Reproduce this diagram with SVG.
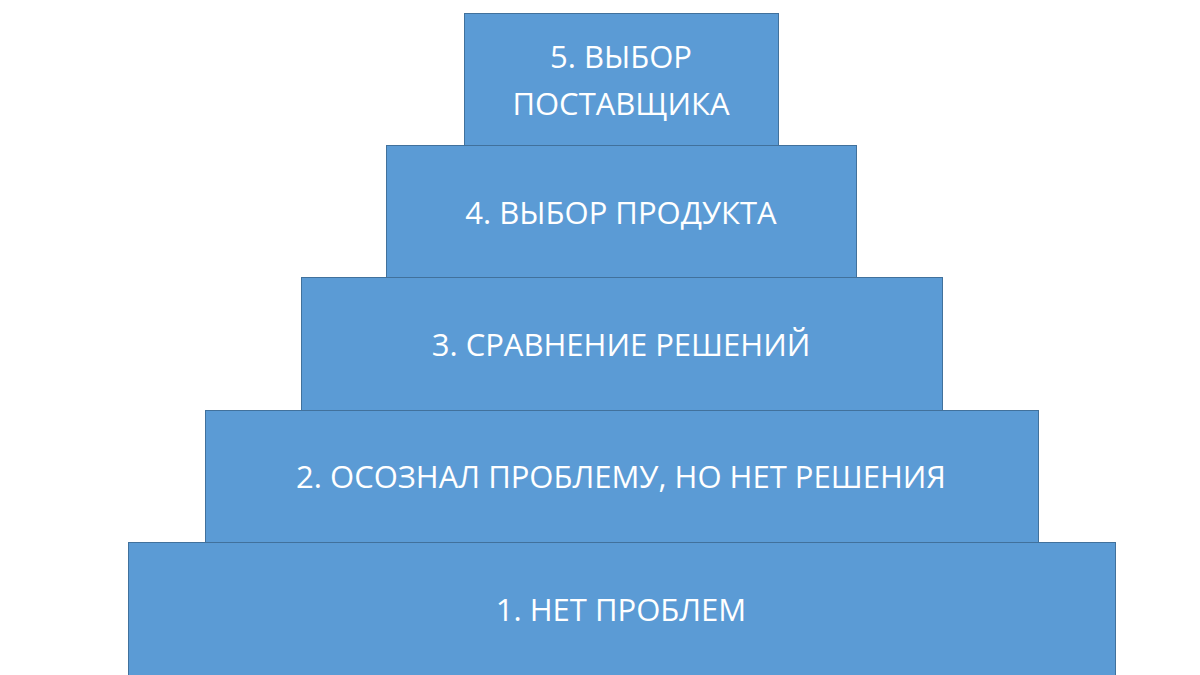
<svg xmlns="http://www.w3.org/2000/svg" width="1200" height="675" viewBox="0 0 1200 675">
<style>
.b{fill:#5B9BD5;stroke:#41719C;stroke-width:1}
.t{fill:#fff;font-family:"Open Sans","Noto Sans",sans-serif;font-size:31px;text-anchor:middle}
</style>
<rect width="1200" height="675" fill="#fff"/>
<g id="n1"><rect class="b" x="128.5" y="542.5" width="987" height="140"/><text class="t" x="621" y="621">1. НЕТ ПРОБЛЕМ</text></g>
<g id="n2"><rect class="b" x="205.5" y="410.5" width="833" height="132"/><text class="t" x="621" y="488">2. ОСОЗНАЛ ПРОБЛЕМУ, НО НЕТ РЕШЕНИЯ</text></g>
<g id="n3"><rect class="b" x="301.5" y="277.5" width="641" height="133"/><text class="t" x="621" y="356">3. СРАВНЕНИЕ РЕШЕНИЙ</text></g>
<g id="n4"><rect class="b" x="386.5" y="145.5" width="470" height="132"/><text class="t" x="621" y="224">4. ВЫБОР ПРОДУКТА</text></g>
<g id="n5"><rect class="b" x="464.5" y="13.5" width="314" height="132"/><text class="t" x="621" y="68">5. ВЫБОР</text><text class="t" x="621" y="115">ПОСТАВЩИКА</text></g>
<g id="connectors"/>
</svg>
